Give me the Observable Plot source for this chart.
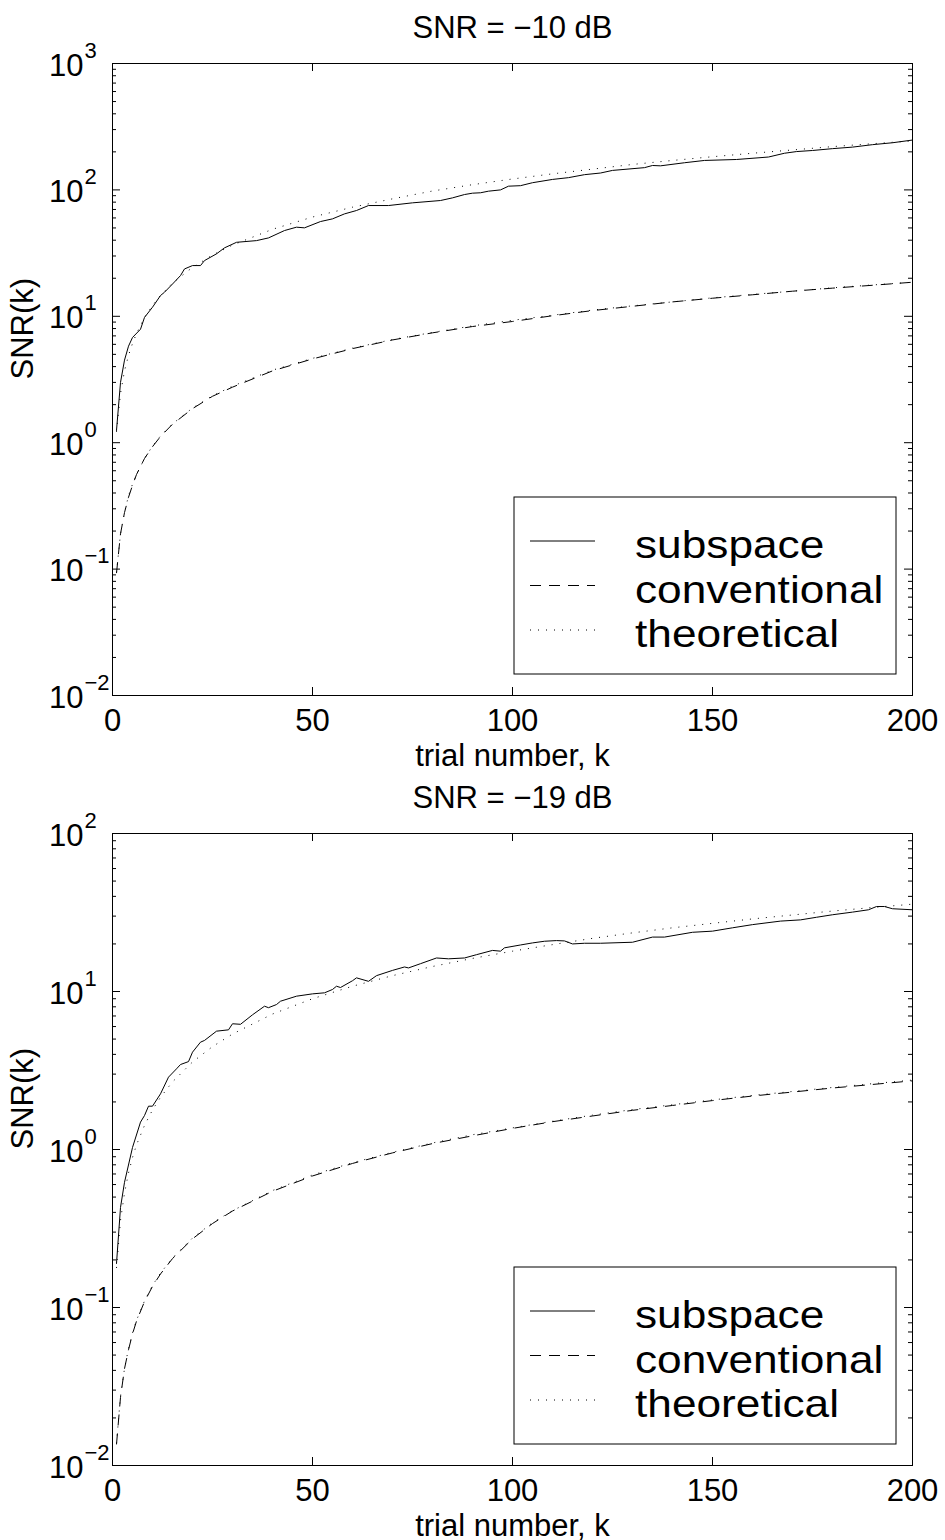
<!DOCTYPE html>
<html><head><meta charset="utf-8">
<script src="https://cdn.jsdelivr.net/npm/d3@7"></script>
<script src="https://cdn.jsdelivr.net/npm/@observablehq/plot@0.6"></script>
<style>
body{margin:0;background:#fff;}
#chart svg{display:block;}
</style></head><body><div id="chart"></div>
<script>
// ---- data ----
const titles = ["SNR = −10 dB", "SNR = −19 dB"];
const xTicks = [0, 50, 100, 150, 200];
const expsTop = [-2, -1, 0, 1, 2, 3];
const expsBot = [-2, -1, 0, 1, 2];
const legendLabels = ["subspace", "conventional", "theoretical"];

const kTheo = [1,2,3,4,5,6,8,10,12,15,20,25,30,40,50,60,70,80,90,100,110,120,130,140,150,160,170,180,190,200];

// top panel (SNR = -10 dB)
const convTop = [0.093,0.19,0.28,0.37,0.46,0.56,0.75,0.93,1.12,1.4,1.86,2.33,2.75,3.7,4.6,5.55,6.5,7.4,8.3,9.1,10.1,11.1,12.0,13.0,13.9,14.8,15.8,16.7,17.6,18.6];
const theoConvTop = [0.094,0.19,0.28,0.38,0.47,0.56,0.75,0.94,1.13,1.41,1.88,2.35,2.8,3.75,4.65,5.6,6.55,7.45,8.4,9.3,10.2,11.2,12.1,13.0,14.0,14.9,15.8,16.8,17.7,18.6];
const theoSubTop = [1.22,2.45,3.7,4.9,6.1,7.3,9.8,12.2,14.6,18.3,24.4,30.5,36.6,48.8,61,73,85,98,110,122,134,146,159,171,183,195,207,220,232,244];
const kSubTop = [1,2,3,4,5,7,8,10,12,13,15,17,18,20,22,23,26,28,31,36,39,43,46,48,52,55,58,61,64,69,75,82,85,88,90,92,94,97,99,102,105,110,114,118,122,125,133,135,137,143,148,156,164,168,171,175,180,185,190,195,200];
const subTop = [1.25,3.0,4.5,5.8,6.8,7.9,9.8,11.8,14.6,15.5,18.0,21.0,23.7,25.2,25.2,27.6,31.2,34.8,38.5,39.7,41.7,47.7,50.7,50.1,56.2,59,64.6,68.7,75.2,75.2,79,82.4,86.5,91.9,94.2,94.9,97.7,100,107,108,114,121,125,132,136,142.6,150,156,155,164,171,174,182,195,201,205,212,218,228,236,248];

// bottom panel (SNR = -19 dB)
const convBot = [0.0136,0.027,0.041,0.054,0.068,0.082,0.109,0.136,0.163,0.204,0.272,0.34,0.408,0.544,0.68,0.816,0.952,1.09,1.22,1.36,1.5,1.63,1.77,1.9,2.04,2.18,2.31,2.45,2.58,2.72];
const theoConvBot = [0.0138,0.0275,0.041,0.055,0.069,0.083,0.11,0.138,0.165,0.206,0.275,0.344,0.41,0.55,0.69,0.825,0.96,1.1,1.24,1.37,1.51,1.65,1.79,1.92,2.06,2.2,2.33,2.47,2.61,2.75];
const theoSubBot = [0.178,0.356,0.53,0.71,0.89,1.07,1.42,1.78,2.14,2.68,3.58,4.48,5.38,7.2,9.0,10.8,12.6,14.4,16.2,18.0,19.8,21.7,23.5,25.3,27.0,28.8,30.5,32.3,34.0,35.7];
const kSubBot = [1,2,3,5,7,8,9,10,12,14,16,17,19,20,22,23,26,29,30,32,35,38,39,41,42,46,50,53,55,56,57,60,61,64,66,70,73,74,77,81,84,88,91,95,97,98,102,105,108,111,113,115,118,122,130,135,138,145,150,155,160,167,172,176,180,185,189,191,193,195,200];
const subBot = [0.19,0.43,0.62,1.03,1.49,1.64,1.88,1.88,2.25,2.87,3.24,3.45,3.6,4.13,4.78,4.9,5.61,5.72,6.25,6.2,7.12,8.07,7.9,8.27,8.68,9.34,9.66,9.81,10.3,10.8,10.6,11.7,12.2,11.6,12.6,13.6,14.3,14.1,15.0,16.3,16.1,16.3,17.1,18.2,18.0,18.9,19.7,20.3,20.8,21.0,20.9,20.0,20.2,20.2,20.5,22.1,22.1,23.7,24.1,25.3,26.5,27.9,28.4,29.5,30.6,31.8,32.9,34.5,34.5,33.4,32.9];

// ---- layout ----
const W = 945, H = 770, ML = 112, MR = 33, MT = 63, MB = 75;
const plotW = W - ML - MR, plotH = H - MT - MB;
const FONT = '"Liberation Sans", Arial, Helvetica, sans-serif';
const FS = 31, FS_EXP = 22, FS_LEG = 39.5, LEG_STRETCH = 1.12;
const DASH = "11,8", DOT = "1,7";

function panel(title, exps, kSub, sub, theoSub, conv, theoConv) {
  const majors = exps.map(e => Math.pow(10, e));
  const minors = [];
  for (const e of exps.slice(0, -1)) for (let m = 2; m <= 9; m++) minors.push(m * Math.pow(10, e));
  const expLabels = exps.map(e => e < 0 ? "−" + (-e) : String(e));
  const svg = Plot.plot({
    width: W, height: H,
    marginLeft: ML, marginRight: MR, marginTop: MT, marginBottom: MB,
    style: {fontFamily: FONT, background: "#fff", overflow: "visible"},
    x: {domain: [0, 200], axis: null},
    y: {type: "log", domain: [majors[0], majors[majors.length - 1]], axis: null},
    marks: [
      Plot.line(kTheo, {x: kTheo, y: theoSub, stroke: "#000", strokeWidth: 1, strokeDasharray: DOT, strokeLinecap: "butt"}),
      Plot.line(kTheo, {x: kTheo, y: theoConv, stroke: "#000", strokeWidth: 1, strokeDasharray: DOT, strokeLinecap: "butt"}),
      Plot.line(kTheo, {x: kTheo, y: conv, stroke: "#000", strokeWidth: 1, strokeDasharray: DASH, strokeLinecap: "butt"}),
      Plot.line(kSub, {x: kSub, y: sub, stroke: "#000", strokeWidth: 1}),
      Plot.frame({stroke: "#000", strokeWidth: 1}),
      // y ticks (inside, both sides)
      Plot.ruleY(majors, {y: d => d, insetRight: plotW - 8, stroke: "#000"}),
      Plot.ruleY(majors, {y: d => d, insetLeft: plotW - 8, stroke: "#000"}),
      Plot.ruleY(minors, {y: d => d, insetRight: plotW - 4, stroke: "#000"}),
      Plot.ruleY(minors, {y: d => d, insetLeft: plotW - 4, stroke: "#000"}),
      // x ticks (inside, bottom and top)
      Plot.ruleX(xTicks, {x: d => d, insetTop: plotH - 8, stroke: "#000"}),
      Plot.ruleX(xTicks, {x: d => d, insetBottom: plotH - 8, stroke: "#000"}),
      // tick labels
      Plot.text(majors, {y: d => d, text: () => "10", frameAnchor: "left", dx: -29, dy: 12, textAnchor: "end", lineAnchor: "bottom", fontSize: FS}),
      Plot.text(majors, {y: d => d, text: expLabels, frameAnchor: "left", dx: -28, dy: -6, textAnchor: "start", lineAnchor: "bottom", fontSize: FS_EXP}),
      Plot.text(xTicks, {x: d => d, text: d => String(d), frameAnchor: "bottom", dy: 35, lineAnchor: "bottom", fontSize: FS}),
      // titles
      Plot.text([title], {text: d => d, frameAnchor: "top", dy: -26, lineAnchor: "bottom", fontSize: FS}),
      Plot.text(["trial number, k"], {text: d => d, frameAnchor: "bottom", dy: 70, lineAnchor: "bottom", fontSize: FS}),
      Plot.text(["SNR(k)"], {text: d => d, frameAnchor: "left", dx: -80, rotate: -90, lineAnchor: "bottom", fontSize: FS})
    ]
  });
  // legend
  const g = d3.select(svg).append("g").attr("transform", `translate(${ML},${MT})`)
    .attr("font-family", FONT).attr("text-anchor", "start");
  g.append("rect").attr("x", 402).attr("y", 434).attr("width", 382).attr("height", 177)
    .attr("fill", "#fff").attr("stroke", "#000").attr("stroke-width", 1);
  const dashes = [null, DASH, DOT];
  legendLabels.forEach((lab, i) => {
    const ly = 478 + i * 44.5;
    const ln = g.append("line").attr("x1", 418).attr("x2", 483).attr("y1", ly).attr("y2", ly)
      .attr("stroke", "#000").attr("stroke-width", 1);
    if (dashes[i]) ln.attr("stroke-dasharray", dashes[i]);
    g.append("text")
      .attr("transform", `translate(523,${495 + i * 44.5}) scale(${LEG_STRETCH},1)`)
      .attr("text-anchor", "start").attr("font-size", FS_LEG)
      .attr("fill", "#000").text(lab);
  });
  return svg;
}

const root = document.getElementById("chart");
root.appendChild(panel(titles[0], expsTop, kSubTop, subTop, theoSubTop, convTop, theoConvTop));
root.appendChild(panel(titles[1], expsBot, kSubBot, subBot, theoSubBot, convBot, theoConvBot));
</script>
</body></html>
